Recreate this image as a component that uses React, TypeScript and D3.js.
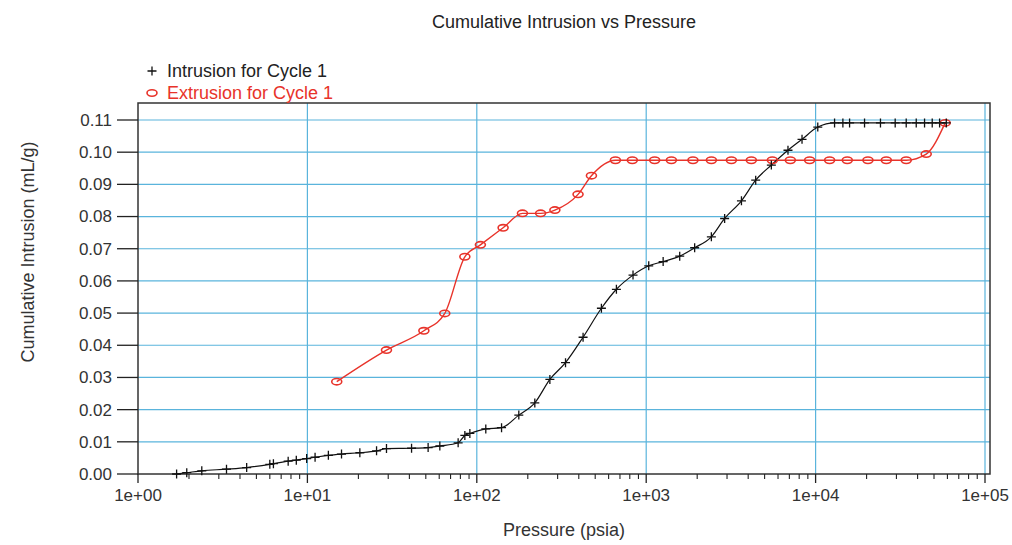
import React from "react";
import * as d3 from "d3";

const intrusionPressure = [1.69, 1.94, 2.38, 3.33, 4.38, 6.0, 6.3, 7.7, 8.6, 9.9, 11.1, 13.3, 15.9, 20.4, 25.6, 29.3, 41.2, 51.6, 60.5, 77.6, 85, 91, 113, 140, 177, 220, 270, 334, 424, 544, 667, 836, 1035, 1259, 1577, 1932, 2425, 2904, 3650, 4430, 5480, 6870, 8315, 10300, 12940, 14490, 15870, 19450, 24150, 29500, 34270, 39270, 43970, 48800, 53950, 59080];
const intrusionVolume = [0.0, 0.0004, 0.001, 0.0015, 0.002, 0.003, 0.0032, 0.004, 0.0043, 0.0048, 0.0052, 0.0058, 0.0062, 0.0066, 0.0072, 0.0079, 0.008, 0.0082, 0.0087, 0.0097, 0.012, 0.0126, 0.014, 0.0144, 0.0183, 0.0221, 0.0294, 0.0346, 0.0425, 0.0515, 0.0574, 0.0618, 0.0647, 0.066, 0.0677, 0.0703, 0.0737, 0.0794, 0.0849, 0.0913, 0.096, 0.1006, 0.104, 0.1078, 0.1091, 0.1091, 0.1091, 0.1091, 0.1091, 0.1091, 0.1091, 0.1091, 0.1091, 0.1091, 0.1091, 0.1091];

const extrusionPressure = [14.9, 29.3, 48.7, 64.7, 85, 105, 143, 186, 238, 289, 396, 475, 658, 828, 1122, 1408, 1888, 2425, 3183, 4174, 5555, 7093, 9220, 12100, 15380, 20370, 26140, 34270, 44980, 58200];
const extrusionVolume = [0.0287, 0.0385, 0.0445, 0.0499, 0.0675, 0.0712, 0.0765, 0.081, 0.081, 0.082, 0.0869, 0.0927, 0.0975, 0.0975, 0.0975, 0.0975, 0.0975, 0.0975, 0.0975, 0.0975, 0.0975, 0.0975, 0.0975, 0.0975, 0.0975, 0.0975, 0.0975, 0.0975, 0.0994, 0.1091];

const xTickValues = [1, 10, 100, 1000, 10000, 100000];
const xTickLabels = ["1e+00", "1e+01", "1e+02", "1e+03", "1e+04", "1e+05"];
const yTickValues = [0, 0.01, 0.02, 0.03, 0.04, 0.05, 0.06, 0.07, 0.08, 0.09, 0.1, 0.11];

const titleText = "Cumulative Intrusion vs Pressure";
const xTitle = "Pressure (psia)";
const yTitle = "Cumulative Intrusion (mL/g)";
const legendLabels = ["Intrusion for Cycle 1", "Extrusion for Cycle 1"];

const W = 1012, H = 545;
const L = 138, R = 990, T = 103, B = 474;
const FONT = "'Liberation Sans', Arial, sans-serif";
const GRID = "#5ab4dc";
const RED = "#e8332a";

export default function App() {
  const x = d3.scaleLog().domain([1, 100000]).range([L, 985]);
  const y = d3.scaleLinear().domain([0, 0.11]).range([B, 120]);

  const intr = intrusionPressure.map((p, i) => [p, intrusionVolume[i]] as [number, number]);
  const extr = extrusionPressure.map((p, i) => [p, extrusionVolume[i]] as [number, number]);

  const line = d3.line<[number, number]>()
    .x(d => x(d[0]))
    .y(d => y(d[1]))
    .curve(d3.curveMonotoneX);

  const minorTicks: number[] = [];
  for (let e = 0; e < 5; e++) {
    for (let k = 2; k <= 9; k++) minorTicks.push(k * Math.pow(10, e));
  }

  return (
    <svg width={W} height={H} style={{ position: "absolute", left: 0, top: 0, background: "#fff" }} fontFamily={FONT}>
      <rect x={0} y={0} width={W} height={H} fill="#fff" />
      <text x={564} y={28} textAnchor="middle" fontSize={18} fill="#222">{titleText}</text>

      {/* grid */}
      {yTickValues.filter(v => v > 0).map(v => (
        <line key={"gy" + v} x1={L} x2={R} y1={y(v)} y2={y(v)} stroke={GRID} strokeWidth={1.2} />
      ))}
      {xTickValues.filter(v => v > 1).map(v => (
        <line key={"gx" + v} x1={x(v)} x2={x(v)} y1={T} y2={B} stroke={GRID} strokeWidth={1.2} />
      ))}

      {/* frame */}
      <rect x={L} y={T} width={R - L} height={B - T} fill="none" stroke="#333" strokeWidth={1.5} />

      {/* y ticks */}
      {yTickValues.map(v => (
        <g key={"yt" + v}>
          <line x1={117} x2={L} y1={y(v)} y2={y(v)} stroke="#222" strokeWidth={1.3} />
          <text x={112} y={y(v)} dy="0.35em" textAnchor="end" fontSize={17} fill="#333">{d3.format(".2f")(v)}</text>
        </g>
      ))}

      {/* x ticks */}
      {xTickValues.map((v, i) => (
        <g key={"xt" + v}>
          <line x1={x(v)} x2={x(v)} y1={B} y2={B + 9} stroke="#222" strokeWidth={1.3} />
          <text x={x(v)} y={501} textAnchor="middle" fontSize={17} fill="#333">{xTickLabels[i]}</text>
        </g>
      ))}
      {minorTicks.map(v => (
        <line key={"mt" + v} x1={x(v)} x2={x(v)} y1={B} y2={B + 5} stroke="#222" strokeWidth={1.1} />
      ))}

      <text x={564} y={536} textAnchor="middle" fontSize={18} fill="#333">{xTitle}</text>
      <text transform={`translate(34,${252}) rotate(-90)`} textAnchor="middle" fontSize={18} fill="#333">{yTitle}</text>

      {/* series */}
      <path d={line(extr) || ""} fill="none" stroke={RED} strokeWidth={1.4} />
      <path d={line(intr) || ""} fill="none" stroke="#111" strokeWidth={1.2} />
      {extr.map((d, i) => (
        <ellipse key={"e" + i} cx={x(d[0])} cy={y(d[1])} rx={5} ry={3.2} fill="none" stroke={RED} strokeWidth={1.6} />
      ))}
      {intr.map((d, i) => (
        <path key={"p" + i} transform={`translate(${x(d[0])},${y(d[1])})`} d="M-4.5,0H4.5M0,-4.5V4.5" stroke="#111" strokeWidth={1.3} />
      ))}

      {/* legend */}
      <path transform="translate(152,71)" d="M-4.5,0H4.5M0,-4.5V4.5" stroke="#111" strokeWidth={1.3} />
      <text x={167} y={77} fontSize={18} fill="#222">{legendLabels[0]}</text>
      <ellipse cx={152} cy={93} rx={5} ry={3.2} fill="none" stroke={RED} strokeWidth={1.6} />
      <text x={167} y={99} fontSize={18} fill={RED}>{legendLabels[1]}</text>
    </svg>
  );
}
